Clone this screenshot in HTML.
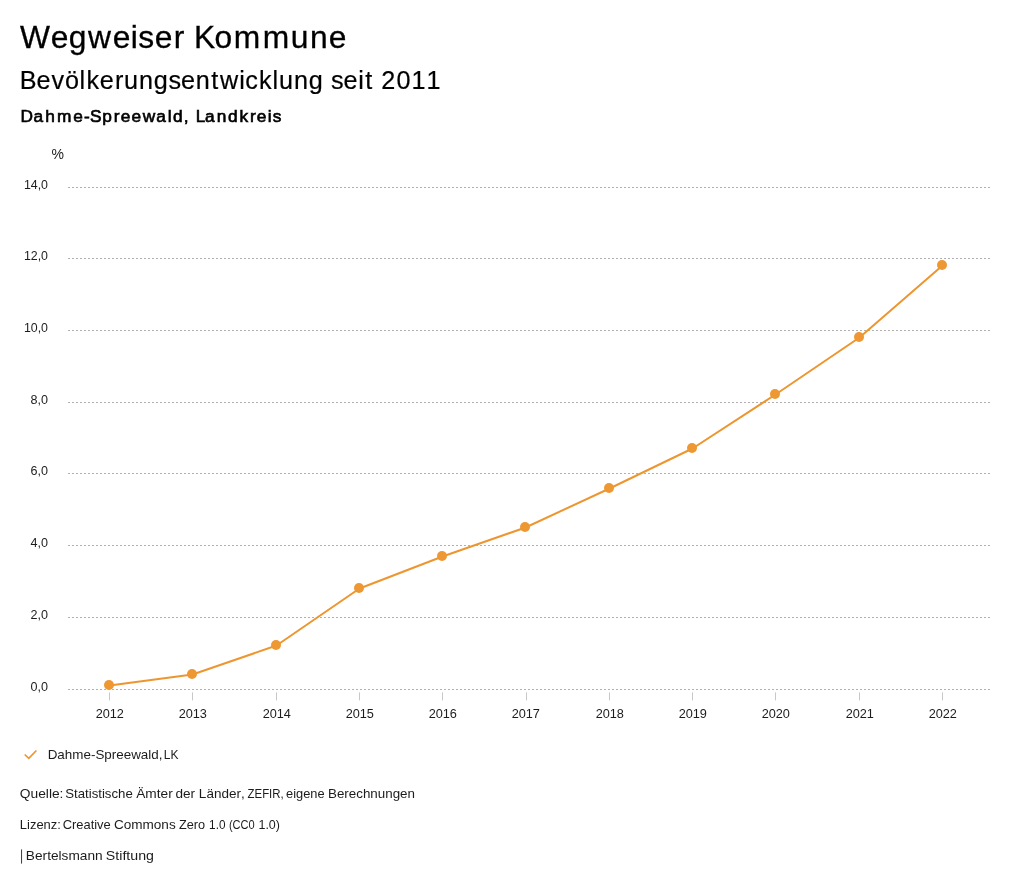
<!DOCTYPE html>
<html lang="de"><head><meta charset="utf-8"><title>Wegweiser Kommune</title>
<style>
html,body{margin:0;padding:0;background:#fff;}
body{width:1024px;height:888px;overflow:hidden;}
svg{display:block;will-change:transform;}
text{font-family:"Liberation Sans",sans-serif;font-kerning:none;}
.ax{font-size:13px;fill:#1c1c1c;}
</style></head><body>
<svg width="1024" height="888" viewBox="0 0 1024 888">

<text transform="scale(1.0120,1)" x="19.79 50.05 67.89 86.94 111.32 129.30 136.64 152.82 171.59 171.59 191.80 212.00 230.89 259.54 287.36 306.26 324.76" y="48.0" font-size="31.40" fill="#000" stroke="#000" stroke-width="0.30">Wegweiser Kommune</text>
<text transform="scale(1.0000,1)" x="19.64 36.49 51.39 64.89 79.59 86.38 99.64 114.96 123.98 139.04 153.82 168.47 181.05 195.79 211.29 220.02 239.27 245.24 259.02 272.46 278.96 294.02 308.80 308.80 330.95 343.53 358.24 365.37 365.37 381.25 396.57 411.46 426.47" y="89.0" font-size="25.20" fill="#000" stroke="#000" stroke-width="0.20">Bevölkerungsentwicklung seit 2011</text>
<text transform="scale(1.0000,1)" x="20.53 33.51 45.20 56.95 73.29 83.94 90.05 102.27 113.77 120.71 131.62 142.77 156.20 167.74 172.95 183.83 183.83 195.71 205.11 216.82 227.91 239.42 249.92 256.86 267.76 272.71" y="122.0" font-size="17.30" fill="#000" stroke="#000" stroke-width="0.65">Dahme-Spreewald, Landkreis</text>
<text class="ax" x="51.6" y="159.3" style="font-size:14px">%</text>
<line x1="68" x2="992" y1="689.5" y2="689.5" stroke="#b0b0b0" stroke-width="1" stroke-dasharray="2,2"/>
<line x1="68" x2="992" y1="617.5" y2="617.5" stroke="#b0b0b0" stroke-width="1" stroke-dasharray="2,2"/>
<line x1="68" x2="992" y1="545.5" y2="545.5" stroke="#b0b0b0" stroke-width="1" stroke-dasharray="2,2"/>
<line x1="68" x2="992" y1="473.5" y2="473.5" stroke="#b0b0b0" stroke-width="1" stroke-dasharray="2,2"/>
<line x1="68" x2="992" y1="402.5" y2="402.5" stroke="#b0b0b0" stroke-width="1" stroke-dasharray="2,2"/>
<line x1="68" x2="992" y1="330.5" y2="330.5" stroke="#b0b0b0" stroke-width="1" stroke-dasharray="2,2"/>
<line x1="68" x2="992" y1="258.5" y2="258.5" stroke="#b0b0b0" stroke-width="1" stroke-dasharray="2,2"/>
<line x1="68" x2="992" y1="187.5" y2="187.5" stroke="#b0b0b0" stroke-width="1" stroke-dasharray="2,2"/>
<text class="ax" x="48" y="691.0" text-anchor="end" textLength="17.5" lengthAdjust="spacingAndGlyphs">0,0</text>
<text class="ax" x="48" y="619.0" text-anchor="end" textLength="17.5" lengthAdjust="spacingAndGlyphs">2,0</text>
<text class="ax" x="48" y="547.0" text-anchor="end" textLength="17.5" lengthAdjust="spacingAndGlyphs">4,0</text>
<text class="ax" x="48" y="475.0" text-anchor="end" textLength="17.5" lengthAdjust="spacingAndGlyphs">6,0</text>
<text class="ax" x="48" y="404.0" text-anchor="end" textLength="17.5" lengthAdjust="spacingAndGlyphs">8,0</text>
<text class="ax" x="48" y="332.0" text-anchor="end" textLength="24.1" lengthAdjust="spacingAndGlyphs">10,0</text>
<text class="ax" x="48" y="260.0" text-anchor="end" textLength="24.1" lengthAdjust="spacingAndGlyphs">12,0</text>
<text class="ax" x="48" y="189.0" text-anchor="end" textLength="24.1" lengthAdjust="spacingAndGlyphs">14,0</text>
<line x1="109.5" x2="109.5" y1="692.4" y2="700.4" stroke="#c8c8c8" stroke-width="1"/>
<text class="ax" x="109.8" y="718" text-anchor="middle" textLength="28.3" lengthAdjust="spacingAndGlyphs">2012</text>
<line x1="192.5" x2="192.5" y1="692.4" y2="700.4" stroke="#c8c8c8" stroke-width="1"/>
<text class="ax" x="192.8" y="718" text-anchor="middle" textLength="28.3" lengthAdjust="spacingAndGlyphs">2013</text>
<line x1="276.5" x2="276.5" y1="692.4" y2="700.4" stroke="#c8c8c8" stroke-width="1"/>
<text class="ax" x="276.8" y="718" text-anchor="middle" textLength="28.3" lengthAdjust="spacingAndGlyphs">2014</text>
<line x1="359.5" x2="359.5" y1="692.4" y2="700.4" stroke="#c8c8c8" stroke-width="1"/>
<text class="ax" x="359.8" y="718" text-anchor="middle" textLength="28.3" lengthAdjust="spacingAndGlyphs">2015</text>
<line x1="442.5" x2="442.5" y1="692.4" y2="700.4" stroke="#c8c8c8" stroke-width="1"/>
<text class="ax" x="442.8" y="718" text-anchor="middle" textLength="28.3" lengthAdjust="spacingAndGlyphs">2016</text>
<line x1="526.5" x2="526.5" y1="692.4" y2="700.4" stroke="#c8c8c8" stroke-width="1"/>
<text class="ax" x="525.8" y="718" text-anchor="middle" textLength="28.3" lengthAdjust="spacingAndGlyphs">2017</text>
<line x1="609.5" x2="609.5" y1="692.4" y2="700.4" stroke="#c8c8c8" stroke-width="1"/>
<text class="ax" x="609.8" y="718" text-anchor="middle" textLength="28.3" lengthAdjust="spacingAndGlyphs">2018</text>
<line x1="692.5" x2="692.5" y1="692.4" y2="700.4" stroke="#c8c8c8" stroke-width="1"/>
<text class="ax" x="692.8" y="718" text-anchor="middle" textLength="28.3" lengthAdjust="spacingAndGlyphs">2019</text>
<line x1="775.5" x2="775.5" y1="692.4" y2="700.4" stroke="#c8c8c8" stroke-width="1"/>
<text class="ax" x="775.8" y="718" text-anchor="middle" textLength="28.3" lengthAdjust="spacingAndGlyphs">2020</text>
<line x1="859.5" x2="859.5" y1="692.4" y2="700.4" stroke="#c8c8c8" stroke-width="1"/>
<text class="ax" x="859.8" y="718" text-anchor="middle" textLength="28.3" lengthAdjust="spacingAndGlyphs">2021</text>
<line x1="942.5" x2="942.5" y1="692.4" y2="700.4" stroke="#c8c8c8" stroke-width="1"/>
<text class="ax" x="942.8" y="718" text-anchor="middle" textLength="28.3" lengthAdjust="spacingAndGlyphs">2022</text>
<polyline points="109.5,685.5 192.5,674.5 276.5,645.5 359.5,588.5 442.5,556.5 525.5,527.5 609.5,488.5 692.5,448.5 775.5,394.5 859.5,337.5 942.5,265.5" fill="none" stroke="#ed962f" stroke-width="2" stroke-linejoin="round" stroke-linecap="round"/>
<circle cx="109" cy="685" r="5" fill="#ed9833"/>
<circle cx="192" cy="674" r="5" fill="#ed9833"/>
<circle cx="276" cy="645" r="5" fill="#ed9833"/>
<circle cx="359" cy="588" r="5" fill="#ed9833"/>
<circle cx="442" cy="556" r="5" fill="#ed9833"/>
<circle cx="525" cy="527" r="5" fill="#ed9833"/>
<circle cx="609" cy="488" r="5" fill="#ed9833"/>
<circle cx="692" cy="448" r="5" fill="#ed9833"/>
<circle cx="775" cy="394" r="5" fill="#ed9833"/>
<circle cx="859" cy="337" r="5" fill="#ed9833"/>
<circle cx="942" cy="265" r="5" fill="#ed9833"/>
<polyline points="24.7,754.5 28.8,758.4 36.4,750.5" fill="none" stroke="#ed962f" stroke-width="1.7"/>
<text class="ax" x="47.70" y="759.0" textLength="114.81" lengthAdjust="spacingAndGlyphs">Dahme-Spreewald,</text>
<text class="ax" x="163.81" y="759.0" textLength="14.72" lengthAdjust="spacingAndGlyphs">LK</text>
<text class="ax" x="19.75" y="798.0" textLength="43.71" lengthAdjust="spacingAndGlyphs">Quelle:</text>
<text class="ax" x="65.20" y="798.0" textLength="67.59" lengthAdjust="spacingAndGlyphs">Statistische</text>
<text class="ax" x="136.17" y="798.0" textLength="36.55" lengthAdjust="spacingAndGlyphs">Ämter</text>
<text class="ax" x="175.53" y="798.0" textLength="19.59" lengthAdjust="spacingAndGlyphs">der</text>
<text class="ax" x="198.89" y="798.0" textLength="45.82" lengthAdjust="spacingAndGlyphs">Länder,</text>
<text class="ax" x="247.54" y="798.0" textLength="36.19" lengthAdjust="spacingAndGlyphs">ZEFIR,</text>
<text class="ax" x="286.06" y="798.0" textLength="38.51" lengthAdjust="spacingAndGlyphs">eigene</text>
<text class="ax" x="328.00" y="798.0" textLength="86.96" lengthAdjust="spacingAndGlyphs">Berechnungen</text>
<text class="ax" x="19.84" y="828.8" textLength="41.05" lengthAdjust="spacingAndGlyphs">Lizenz:</text>
<text class="ax" x="62.64" y="828.8" textLength="48.13" lengthAdjust="spacingAndGlyphs">Creative</text>
<text class="ax" x="113.91" y="828.8" textLength="61.78" lengthAdjust="spacingAndGlyphs">Commons</text>
<text class="ax" x="178.90" y="828.8" textLength="26.14" lengthAdjust="spacingAndGlyphs">Zero</text>
<text class="ax" x="209.10" y="828.8" textLength="16.36" lengthAdjust="spacingAndGlyphs">1.0</text>
<text class="ax" x="228.91" y="828.8" textLength="25.82" lengthAdjust="spacingAndGlyphs">(CC0</text>
<text class="ax" x="258.45" y="828.8" textLength="21.53" lengthAdjust="spacingAndGlyphs">1.0)</text>
<rect x="21" y="849.4" width="1.05" height="14.2" fill="#444"/>
<text class="ax" x="25.88" y="859.6" textLength="76.71" lengthAdjust="spacingAndGlyphs">Bertelsmann</text>
<text class="ax" x="105.86" y="859.6" textLength="48.06" lengthAdjust="spacingAndGlyphs">Stiftung</text>
</svg>
</body></html>
